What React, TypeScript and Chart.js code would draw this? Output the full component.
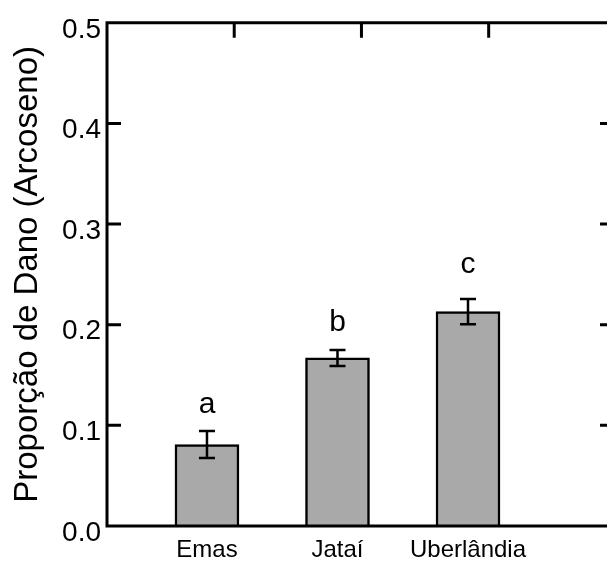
import React, { useEffect, useRef } from 'react';
import { Chart, registerables } from 'chart.js';

Chart.register(...registerables);

const categories = ['Emas', 'Jataí', 'Uberlândia'];
const categoryPositions = [1, 2, 3];
const means = [0.081, 0.167, 0.213];
const errors = [0.0135, 0.008, 0.0125];
const groupLetters = ['a', 'b', 'c'];
const letterLevels = [0.112, 0.194, 0.251];
const yTickValues = [0, 0.1, 0.2, 0.3, 0.4, 0.5];
const topTickValues = [1, 2, 3];
const yTitle = 'Proporção de Dano (Arcoseno)';

const FONT = '"Liberation Sans", Arial, Helvetica, sans-serif';

const framePlugin = {
  id: 'frameAndErrors',
  afterDatasetsDraw(chart: any) {
    const { ctx, chartArea, scales } = chart;
    const { left, right, top, bottom } = chartArea;
    const y = scales.y;
    const x2 = scales.x2;
    const meta = chart.getDatasetMeta(0);
    ctx.save();
    // error bars
    ctx.strokeStyle = '#000';
    ctx.lineWidth = 2.5;
    ctx.lineCap = 'butt';
    meta.data.forEach((bar: any, i: number) => {
      const cx = bar.x;
      const yTop = y.getPixelForValue(means[i] + errors[i]);
      const yBot = y.getPixelForValue(means[i] - errors[i]);
      ctx.beginPath();
      ctx.moveTo(cx, yTop);
      ctx.lineTo(cx, yBot);
      ctx.moveTo(cx - 8, yTop);
      ctx.lineTo(cx + 8, yTop);
      ctx.moveTo(cx - 8, yBot);
      ctx.lineTo(cx + 8, yBot);
      ctx.stroke();
    });
    // group letters
    ctx.fillStyle = '#000';
    ctx.font = '30px ' + FONT;
    ctx.textAlign = 'center';
    ctx.textBaseline = 'alphabetic';
    meta.data.forEach((bar: any, i: number) => {
      ctx.fillText(groupLetters[i], bar.x, y.getPixelForValue(letterLevels[i]));
    });
    // frame
    ctx.lineWidth = 3;
    ctx.beginPath();
    ctx.moveTo(left - 1.5, top);
    ctx.lineTo(right, top);
    ctx.moveTo(left, top - 1.5);
    ctx.lineTo(left, bottom + 1.5);
    ctx.moveTo(left - 1.5, bottom);
    ctx.lineTo(right, bottom);
    ctx.stroke();
    // ticks
    ctx.beginPath();
    yTickValues.forEach((v) => {
      if (v <= y.min || v >= y.max) return;
      const py = y.getPixelForValue(v);
      ctx.moveTo(left, py);
      ctx.lineTo(left + 14, py);
      ctx.moveTo(right, py);
      ctx.lineTo(right - 7, py);
    });
    topTickValues.forEach((v) => {
      const px = x2.getPixelForValue(v);
      ctx.moveTo(px, top);
      ctx.lineTo(px, top + 15);
    });
    ctx.stroke();
    ctx.restore();
  },
};

export default function App() {
  const canvasRef = useRef<HTMLCanvasElement>(null);

  useEffect(() => {
    const canvas = canvasRef.current;
    if (!canvas) return;
    const chart = new Chart(canvas, {
      type: 'bar',
      data: {
        datasets: [
          {
            data: categoryPositions.map((p, i) => ({ x: p, y: means[i] })),
            backgroundColor: '#a9a9a9',
            borderColor: '#000',
            borderWidth: 2.5,
            barThickness: 64,
          },
        ],
      },
      options: {
        responsive: false,
        animation: false,
        devicePixelRatio: 1,
        layout: { padding: { top: 16, right: 0, left: 0, bottom: 0 } },
        plugins: {
          legend: { display: false },
          tooltip: { enabled: false },
        },
        scales: {
          x: {
            type: 'linear',
            offset: false,
            min: 0.234,
            max: 4.065,
            afterBuildTicks: (s: any) => {
              s.ticks = categoryPositions.map((v) => ({ value: v }));
            },
            afterFit: (s: any) => {
              s.height = 36;
            },
            ticks: {
              callback: (_v: any, i: number) => categories[i] ?? '',
              autoSkip: false,
              maxRotation: 0,
              font: { family: FONT, size: 24 },
              color: '#000',
              padding: 10,
            },
            grid: { display: false, drawTicks: false, offset: false },
            border: { display: false },
          },
          x2: {
            type: 'linear',
            position: 'top',
            display: false,
            offset: false,
            grid: { offset: false },
            min: 0,
            max: 3.93,
          },
          y: {
            type: 'linear',
            min: 0,
            max: 0.5,
            afterBuildTicks: (s: any) => {
              s.ticks = yTickValues.map((v) => ({ value: v }));
            },
            afterFit: (s: any) => {
              s.width = 107;
            },
            ticks: {
              callback: (v: any) => Number(v).toFixed(1),
              font: { family: FONT, size: 28 },
              color: '#000',
              padding: 6,
              labelOffset: 7,
            },
            grid: { display: false, drawTicks: false },
            border: { display: false },
            title: {
              display: true,
              text: yTitle,
              font: { family: FONT, size: 33 },
              color: '#000',
              padding: { top: 8, bottom: 0 },
            },
          },
        },
      } as any,
      plugins: [framePlugin],
    });
    return () => chart.destroy();
  }, []);

  return (
    <div style={{ position: 'fixed', left: 0, top: 0, width: 607, height: 562, background: '#fff' }}>
      <canvas ref={canvasRef} width={607} height={562} style={{ display: 'block' }} />
    </div>
  );
}
